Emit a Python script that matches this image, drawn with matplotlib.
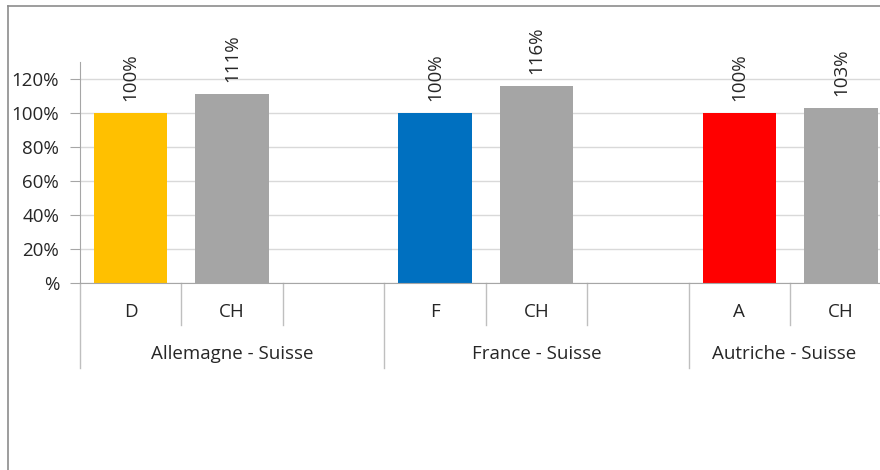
import matplotlib
matplotlib.use("Agg")
import matplotlib.pyplot as plt
from matplotlib.lines import Line2D
from matplotlib.ticker import FuncFormatter

groups = ["Allemagne - Suisse", "France - Suisse", "Autriche - Suisse"]
countries = ["D", "CH", "F", "CH", "A", "CH"]
values = [100, 111, 100, 116, 100, 103]
colors = ["#FFC000", "#A5A5A5", "#0070C0", "#A5A5A5", "#FF0000", "#A5A5A5"]
yticks = [0, 20, 40, 60, 80, 100, 120]

W, H = 880, 470
plt.rcParams["font.family"] = ["Open Sans", "DejaVu Sans"]
plt.rcParams["font.size"] = 13.5

fig = plt.figure(figsize=(W / 100, H / 100), dpi=100)
# plot area runs past the right edge of the picture, like the cropped original
ax_left, ax_right, ax_bottom, ax_top = 80, 993, 283, 62
ax = fig.add_axes([ax_left / W, (H - ax_bottom) / H,
                   (ax_right - ax_left) / W, (ax_bottom - ax_top) / H])

# three slots per group, the third one empty
xpos = []
for g in range(len(groups)):
    xpos += [3 * g, 3 * g + 1]

ax.bar(xpos, values, width=0.725, color=colors, zorder=2)
for x, v in zip(xpos, values):
    ax.annotate(f"{v}%", (x, v), xytext=(0, 12), textcoords="offset pixels",
                rotation=90, ha="center", va="bottom", color="#262626")

ax.set_xlim(-0.5, 3 * len(groups) - 0.5)
ax.set_ylim(0, 130)
ax.set_yticks(yticks)
ax.yaxis.set_major_formatter(FuncFormatter(lambda v, p: "%" if v == 0 else f"{v:.0f}%"))
ax.tick_params(axis="y", length=7, color="#a6a6a6", labelcolor="#262626", pad=8)
ax.set_xticks([])
ax.grid(axis="y", color="#d9d9d9", linewidth=1, zorder=0)
for s in ["top", "right"]:
    ax.spines[s].set_visible(False)
ax.spines["left"].set_color("#a6a6a6")
ax.spines["bottom"].set_color("#a6a6a6")

# two-level category axis drawn below the plot
ax_h = ax_bottom - ax_top
def frac(px):
    return -px / ax_h

# data x of the picture's right edge, to centre the cut-off group label
x_edge = -0.5 + (W - ax_left) / (ax_right - ax_left) * 3 * len(groups)

tr = ax.get_xaxis_transform()
for i, c in enumerate(countries):
    ax.text(xpos[i], frac(29), c, transform=tr, ha="center", va="center",
            color="#262626")
for g, name in enumerate(groups):
    lo, hi = 3 * g - 0.5, min(3 * g + 2.5, x_edge)
    ax.text((lo + hi) / 2, frac(71), name, transform=tr, ha="center",
            va="center", color="#262626")
for b in range(3 * len(groups) + 1):
    edge = b - 0.5
    depth = 85 if b % 3 == 0 else 42
    ax.add_line(Line2D([edge, edge], [0, frac(depth)], transform=tr,
                       color="#bfbfbf", linewidth=1, clip_on=False))

# chart frame (left and top edges visible)
fy = 1 - 6 / H
fx = 8 / W
fig.add_artist(Line2D([fx, fx], [0, fy], color="#8c8c8c", linewidth=1.2))
fig.add_artist(Line2D([fx, 1], [fy, fy], color="#8c8c8c", linewidth=1.2))

fig.savefig("out.png", dpi=100)
